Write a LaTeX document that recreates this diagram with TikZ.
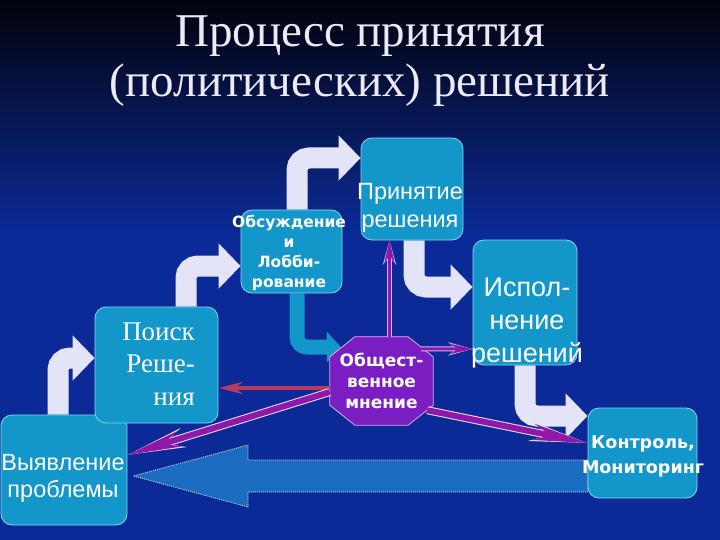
\documentclass[tikz,border=0pt]{standalone}
\usepackage{fontspec}
\setmainfont{Liberation Serif}
\setsansfont{Liberation Sans}
\newfontfamily\heavysans{DejaVu Sans}
\usetikzlibrary{positioning,arrows.meta,calc,backgrounds}

\definecolor{bgblue}{HTML}{0B2A98}
\definecolor{bgtop}{HTML}{02030C}
\definecolor{boxteal}{HTML}{1396C9}
\definecolor{boxedge}{HTML}{86D6F2}
\definecolor{lav}{HTML}{E4E4F8}
\definecolor{opviolet}{HTML}{7A1EC4}
\definecolor{opedge}{HTML}{D2B4F4}
\definecolor{pur}{HTML}{9018A8}
\definecolor{redarr}{HTML}{B83A62}
\definecolor{bigblue}{HTML}{1C6CC2}
\definecolor{titlecol}{HTML}{ECEAF8}

\begin{document}
\begin{tikzpicture}[x=1pt, y=-1pt, font=\sffamily,
    box/.style={draw=boxedge, line width=0.8pt, fill=boxteal, rounded corners=11pt, inner sep=0pt},
    boxtext/.style={text=white, align=center, inner sep=0pt},
    flow/.style={draw=lav, line width=21pt, rounded corners=12pt, -{Triangle[length=22pt,width=44pt]}},
    tealflow/.style={draw=boxteal, line width=15pt, rounded corners=10pt, -{Triangle[length=14pt,width=30pt]}},
    parrow/.style={draw=pur, line width=3pt, -{Stealth[length=22pt,width=10pt]},
      preaction={draw=opedge, line width=5pt, -{Stealth[length=24pt,width=13pt]}}},
    longarrow/.style={draw=pur, line width=6pt, -{Stealth[length=55pt,width=16pt]},
      preaction={draw=white!85!pur, line width=8pt, -{Stealth[length=57pt,width=19pt]}}}]
  \useasboundingbox (0,0) rectangle (720,540);

  \node[font=\rmfamily\fontsize{47}{50}\selectfont, text=titlecol, align=center] (ttl) at (360,61)
    {Процесс принятия\\(политических) решений};

  \node[box, minimum width=126pt, minimum height=110pt] (vy) at (64,470) {};
  \node[box, minimum width=123pt, minimum height=116pt] (po) at (156.5,365) {};
  \node[box, minimum width=101pt, minimum height=83pt] (ob) at (291.5,251.5) {};
  \node[box, minimum width=102pt, minimum height=102pt] (pr) at (412,189) {};
  \node[box, minimum width=104pt, minimum height=125pt] (is) at (525,302.5) {};
  \node[box, minimum width=109pt, minimum height=90pt] (ko) at (642.5,453) {};
  \node[minimum width=103pt, minimum height=88pt, inner sep=0pt] (op) at (381.5,381) {};

  \node[boxtext, font=\sffamily\fontsize{23.5}{27}\selectfont] (vy-t) at (63,478) {Выявление\\проблемы};
  \node[boxtext, align=right, anchor=east, font=\rmfamily\fontsize{27}{32.5}\selectfont] (po-t) at (195,364) {Поиск\\Реше-\\ния};
  \node[boxtext, font=\heavysans\bfseries\fontsize{15.5}{20.3}\selectfont] (ob-t) at (289,253) {Обсуждение\\и\\Лобби-\\рование};
  \node[boxtext, font=\sffamily\fontsize{23.5}{28}\selectfont] (pr-t) at (410,208) {Принятие\\решения};
  \node[boxtext, font=\sffamily\fontsize{27}{33}\selectfont] (is-t) at (527,323) {Испол-\\нение\\решений};
  \node[boxtext, font=\heavysans\bfseries\fontsize{17.5}{25}\selectfont] (ko-t) at (643,456) {Контроль,\\Мониторинг};
  \node[boxtext, font=\heavysans\bfseries\fontsize{17}{21}\selectfont] (op-t) at (op) {Общест-\\венное\\мнение};

  \begin{scope}[on background layer]
    \fill[bgblue] (0,0) rectangle (720,540);
    \shade[top color=bgtop, bottom color=bgblue] (0,0) rectangle (720,235);
    \draw[flow] (vy.north -| 58,0) |- (po.west |- 0,358);
    \draw[flow] (po.north -| 186,0) |- (ob.west |- 0,266);
    \draw[flow] (ob.north -| 297,0) |- (pr.west |- 0,158);
    \draw[flow] (pr.south -| 414,0) |- (is.west |- 0,287);
    \draw[flow] (is.south -| 525,0) |- (ko.west |- 0,416);
    \draw[tealflow] (ob.south -| 297,0) |- ($(op.west)+(11,-34)$);
    \draw[fill=bigblue, draw=white!85!bigblue, line width=0.7pt, dash pattern=on 1pt off 1pt]
      (ko.west |- 0,460) -- (248,460) -- (248,445) -- ($(vy.east)+(6,6)$)
      -- (248,507) -- (248,492) -- (ko.west |- 0,492) -- cycle;
    \draw[fill=opviolet, draw=opedge, line width=0.8pt]
      ($(op.north west)+(25,0)$) -- ($(op.north east)+(-25,0)$) -- ($(op.north east)+(0,20)$)
      -- ($(op.south east)+(0,-20)$) -- ($(op.south east)+(-25,0)$) -- ($(op.south west)+(25,0)$)
      -- ($(op.south west)+(0,-20)$) -- ($(op.north west)+(0,20)$) -- cycle;
  \end{scope}

  \draw[parrow] ([xshift=8pt]op.north) -- ([xshift=8pt]op.north |- pr.south);
  \draw[parrow] ($(op.north east)+(-12,12)$) -- (is.west |- 0,349);
  \draw[draw=redarr, line width=4pt, -{Stealth[length=24pt,width=12pt]}] (op.west |- 0,388) -- (po.east |- 0,388);
  \draw[longarrow] (op.west |- 0,392) -- (vy.east |- 0,455);
  \draw[longarrow] ($(op.south east)+(-6,-15)$) -- (ko.west |- 0,443);
\end{tikzpicture}
\end{document}
